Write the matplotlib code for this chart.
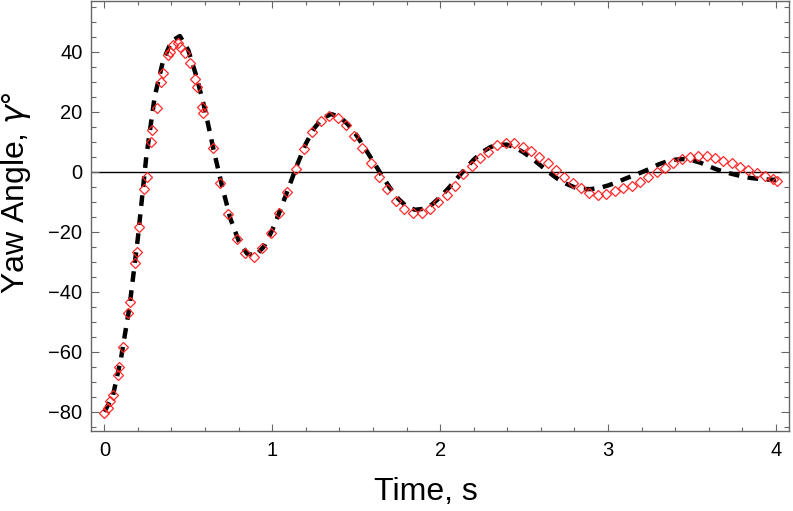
#!/usr/bin/env python3
"""
Yaw angle response: measured points vs. model (dashed).
Writes out.png
"""

import matplotlib
matplotlib.use('Agg')
import matplotlib.pyplot as plt
from matplotlib.ticker import MultipleLocator
import numpy as np

# ─── Data ───────────────────────────────────────────────────
model_t = np.linspace(0, 4, 81)
model_yaw = [
    -80.0, -75.0, -62.0, -45.0, -22.0, 5.0, 25.0, 37.0, 43.5, 45.2,
    40.5, 31.5, 20.5, 7.5, -4.5, -15.5, -23.0, -27.3, -28.0, -25.0,
    -19.5, -12.5, -5.0, 2.5, 9.3, 14.5, 17.8, 19.2, 18.4, 15.8,
    12.3, 8.0, 3.5, -1.0, -5.3, -9.0, -11.6, -12.7, -12.4, -11.0,
    -8.5, -5.5, -2.3, 1.0, 4.0, 6.5, 8.2, 9.0, 9.0, 8.0,
    6.3, 4.3, 2.0, -0.3, -2.4, -4.0, -5.2, -5.8, -5.8, -5.4,
    -4.6, -3.6, -2.4, -1.3, -0.2, 1.0, 2.4, 3.4, 4.0, 4.2,
    3.8, 3.0, 1.8, 0.7, -0.2, -0.9, -1.6, -2.1, -2.4, -2.6,
    -2.7,
]

meas_t = [
    0.000, 0.020, 0.035, 0.052, 0.083, 0.089, 0.110, 0.143, 0.153, 0.183,
    0.193, 0.208, 0.236, 0.252, 0.278, 0.282, 0.312, 0.338, 0.351, 0.381,
    0.391, 0.411, 0.441, 0.451, 0.481, 0.510, 0.540, 0.550, 0.580, 0.590,
    0.646, 0.689, 0.739, 0.789, 0.838, 0.892, 0.941, 0.991, 1.041, 1.090,
    1.140, 1.189, 1.239, 1.289, 1.338, 1.390, 1.438, 1.487, 1.537, 1.587,
    1.636, 1.686, 1.737, 1.787, 1.837, 1.890, 1.940, 1.989, 2.039, 2.089,
    2.138, 2.188, 2.238, 2.287, 2.337, 2.393, 2.442, 2.492, 2.541, 2.591,
    2.641, 2.690, 2.740, 2.790, 2.839, 2.889, 2.939, 2.988, 3.042, 3.091,
    3.141, 3.190, 3.240, 3.290, 3.339, 3.389, 3.439, 3.488, 3.538, 3.588,
    3.637, 3.687, 3.737, 3.786, 3.836, 3.886, 3.935, 3.985, 4.005,
]
meas_yaw = [
    -80.5, -78.8, -76.5, -74.5, -67.8, -65.0, -58.3, -47.2, -43.3, -30.5,
    -26.7, -18.3, -5.9, -1.7, 10.0, 13.9, 21.1, 30.0, 32.8, 38.9,
    40.0, 42.2, 43.0, 41.7, 39.5, 36.1, 30.9, 28.3, 21.7, 19.5,
    8.0, -3.7, -14.2, -22.5, -27.2, -28.3, -25.3, -20.3, -13.7, -6.7,
    0.8, 7.6, 13.1, 17.0, 18.7, 18.0, 15.6, 11.9, 7.8, 2.8,
    -1.9, -5.9, -9.7, -12.5, -13.9, -13.9, -12.5, -10.0, -7.8, -4.8,
    -0.8, 2.0, 4.5, 6.7, 8.9, 9.7, 9.5, 8.3, 6.9, 5.0,
    2.8, 0.6, -1.7, -3.7, -5.5, -7.2, -7.8, -7.6, -6.4, -5.5,
    -4.7, -3.3, -1.9, -0.2, 1.1, 2.8, 4.1, 4.8, 5.2, 5.2,
    4.5, 3.7, 2.8, 1.7, 0.6, -0.3, -1.4, -2.5, -3.0,
]

FRAME = '#666666'

plt.rcParams.update({
    'font.family': ['Liberation Sans', 'DejaVu Sans'],
    'font.size': 14.5,
})


def fig_yaw():
    fig = plt.figure(figsize=(7.93, 5.11), dpi=100)
    ax = fig.add_axes([0.1144, 0.1556, 0.8806, 0.8425])

    ax.axhline(0, color='black', linewidth=1.0, zorder=1)
    ax.plot(model_t, model_yaw, color='black', linewidth=3.2,
            dashes=(2.4, 1.9), zorder=2)
    ax.plot(meas_t, meas_yaw, linestyle='none', marker='D', markersize=5.5,
            markerfacecolor='none', markeredgecolor='#ff2a2a',
            markeredgewidth=0.9, zorder=3)

    ax.set_xlim(-0.081, 4.078)
    ax.set_ylim(-86.6, 56.9)

    ax.xaxis.set_major_locator(MultipleLocator(1))
    ax.xaxis.set_minor_locator(MultipleLocator(0.2))
    ax.yaxis.set_major_locator(MultipleLocator(20))
    ax.yaxis.set_minor_locator(MultipleLocator(5))

    ax.tick_params(which='both', direction='in', top=True, right=True,
                   color=FRAME, width=0.8, labelcolor='black')
    ax.tick_params(axis='x', which='major', length=5.0, pad=7)
    ax.tick_params(axis='x', which='minor', length=3.0)
    ax.tick_params(axis='y', which='major', length=5.5, pad=6)
    ax.tick_params(axis='y', which='minor', length=3.5)

    for sp in ax.spines.values():
        sp.set_color(FRAME)
        sp.set_linewidth(1.0)

    ax.set_xlabel('Time, s', fontsize=23)
    ax.set_ylabel('Yaw Angle, $\\gamma$°', fontsize=23)
    ax.xaxis.set_label_coords(0.48, -0.106)
    ax.yaxis.set_label_coords(-0.083, 0.554)

    fig.savefig('out.png', dpi=100)
    plt.close(fig)


if __name__ == '__main__':
    fig_yaw()
